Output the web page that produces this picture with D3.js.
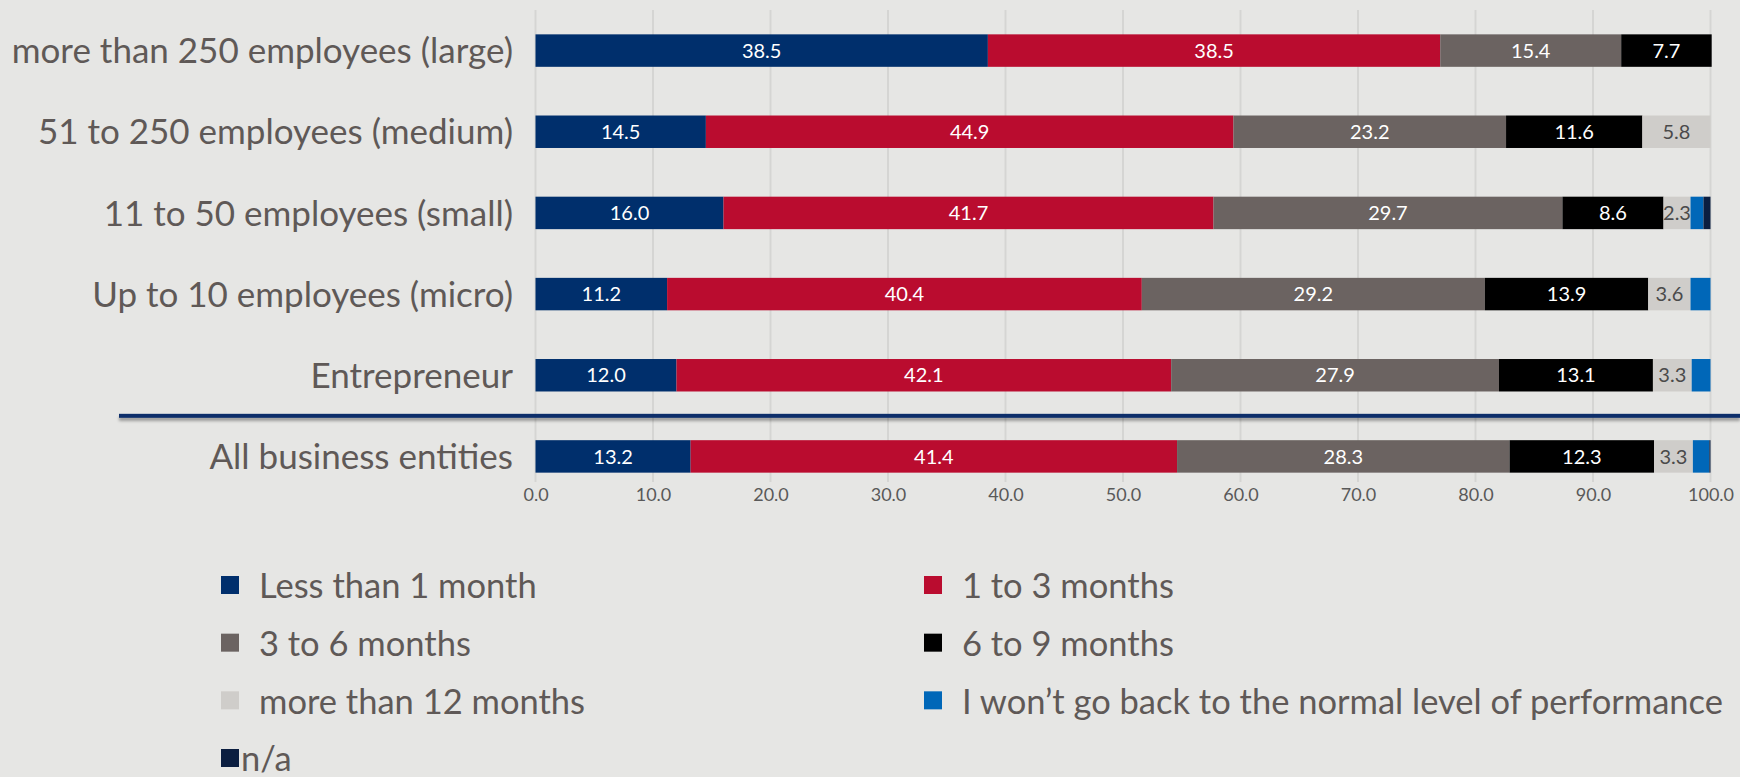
<!DOCTYPE html>
<html>
<head>
<meta charset="utf-8">
<script src="https://cdn.jsdelivr.net/npm/d3@7"></script>
<style>
  html, body { margin: 0; padding: 0; background: #e6e6e4; }
  svg { display: block; font-family: Lato, "Open Sans", sans-serif; }
</style>
</head>
<body>
<svg id="chart" width="1740" height="777"></svg>
<script>
// Business size groups, top to bottom
const categories = [
  "more than 250 employees (large)",
  "51 to 250 employees (medium)",
  "11 to 50 employees (small)",
  "Up to 10 employees (micro)",
  "Entrepreneur",
  "All business entities"
];

// Answer options (series), in stacking order
const seriesNames = [
  "Less than 1 month",
  "1 to 3 months",
  "3 to 6 months",
  "6 to 9 months",
  "more than 12 months",
  "I won\u2019t go back to the normal level of performance",
  "n/a"
];
const seriesColors = ["#002f6c", "#ba0c2f", "#6b6361", "#000000", "#cfcdca", "#0067b8", "#0b1e40"];

// Shares in % per group
const lessThan1Month = [38.5, 14.5, 16.0, 11.2, 12.0, 13.2];
const oneTo3Months   = [38.5, 44.9, 41.7, 40.4, 42.1, 41.4];
const threeTo6Months = [15.4, 23.2, 29.7, 29.2, 27.9, 28.3];
const sixTo9Months   = [7.7, 11.6, 8.6, 13.9, 13.1, 12.3];
const over12Months   = [0, 5.8, 2.3, 3.6, 3.3, 3.3];
const wontGoBack     = [0, 0, 1.1, 1.7, 1.6, 1.4];
const notAnswered    = [0, 0, 0.6, 0, 0, 0.1];

const xTicks = [0, 10, 20, 30, 40, 50, 60, 70, 80, 90, 100];

const seriesValues = [lessThan1Month, oneTo3Months, threeTo6Months, sixTo9Months,
                      over12Months, wontGoBack, notAnswered];

// Rows for d3.stack
const rows = categories.map((c, i) => {
  const r = { category: c };
  seriesNames.forEach((s, k) => { r[s] = seriesValues[k][i]; });
  return r;
});

const svg = d3.select("#chart");
const textColor = "#5f5957";

const x = d3.scaleLinear().domain([0, 100]).range([535.5, 1710.5]);
const y = d3.scaleBand().domain(categories).range([10, 497]).paddingInner(0.6).paddingOuter(0.3);
const color = d3.scaleOrdinal().domain(seriesNames).range(seriesColors);

// Vertical gridlines
svg.append("g")
  .selectAll("line")
  .data(xTicks)
  .join("line")
  .attr("x1", d => x(d)).attr("x2", d => x(d))
  .attr("y1", 10).attr("y2", 482)
  .attr("stroke", "#d5d5d3")
  .attr("stroke-width", 2);

// X axis tick labels
const xAxis = d3.axisBottom(x).tickValues(xTicks).tickFormat(d3.format(".1f")).tickSize(0).tickPadding(0);
const gx = svg.append("g").attr("transform", "translate(0,487)").call(xAxis);
gx.select(".domain").remove();
gx.selectAll("text")
  .attr("font-size", 18)
  .attr("font-family", "Lato, sans-serif")
  .attr("fill", "#595959")
  .attr("dy", "0.75em");

// Stacked bars
const stacked = d3.stack().keys(seriesNames)(rows);

const layers = svg.append("g")
  .selectAll("g")
  .data(stacked)
  .join("g")
  .attr("fill", d => color(d.key));

layers.selectAll("rect")
  .data(d => d.map(p => ({ p, key: d.key })))
  .join("rect")
  .attr("x", d => x(d.p[0]))
  .attr("y", d => y(d.p.data.category))
  .attr("width", d => Math.max(0, x(d.p[1]) - x(d.p[0])))
  .attr("height", y.bandwidth());

// Value labels inside segments
const labelData = [];
stacked.forEach(layer => {
  layer.forEach(p => {
    const v = p[1] - p[0];
    if (v >= 2) labelData.push({ key: layer.key, v: p.data[layer.key], mid: (p[0] + p[1]) / 2, cat: p.data.category });
  });
});

svg.append("g")
  .selectAll("text")
  .data(labelData)
  .join("text")
  .attr("x", d => x(d.mid))
  .attr("y", d => y(d.cat) + y.bandwidth() / 2)
  .attr("dy", "0.36em")
  .attr("text-anchor", "middle")
  .attr("font-size", 20)
  .attr("fill", d => d.key === "more than 12 months" ? "#4a4a4a" : "#ffffff")
  .text(d => d3.format(".1f")(d.v));

// Category labels
svg.append("g")
  .selectAll("text")
  .data(categories)
  .join("text")
  .attr("x", 513)
  .attr("y", d => y(d) + y.bandwidth() / 2)
  .attr("dy", "0.36em")
  .attr("text-anchor", "end")
  .attr("font-size", 35)
  .attr("fill", textColor)
  .text(d => d);

// Separator between size groups and the total, with a soft shadow
const defs = svg.append("defs");
const f = defs.append("filter").attr("id", "sepShadow").attr("x", "-5%").attr("y", "-200%").attr("width", "110%").attr("height", "500%");
f.append("feDropShadow").attr("dx", 0).attr("dy", 3).attr("stdDeviation", 1.6)
  .attr("flood-color", "#000").attr("flood-opacity", 0.35);

const sepY = (y(categories[4]) + y.bandwidth() + y(categories[5])) / 2;
svg.append("rect")
  .attr("x", 119)
  .attr("y", sepY - 2)
  .attr("width", 1740 - 119)
  .attr("height", 4)
  .attr("fill", "#0b2e6a")
  .attr("filter", "url(#sepShadow)");

// Legend: two columns, n/a on its own last row
const legendItems = seriesNames.map((name, i) => {
  if (name === "n/a") return { name, col: 0, row: 3 };
  return { name, col: i % 2, row: Math.floor(i / 2) };
});
const legendColX = [221, 924];
const legendRowY = d3.scaleLinear().domain([0, 3]).range([586, 759]);

const lg = svg.append("g")
  .selectAll("g")
  .data(legendItems)
  .join("g")
  .attr("transform", d => `translate(${legendColX[d.col]},${legendRowY(d.row)})`);

lg.append("rect")
  .attr("x", 0)
  .attr("y", -10)
  .attr("width", 18)
  .attr("height", 18)
  .attr("fill", d => color(d.name));

lg.append("text")
  .attr("x", d => d.name === "n/a" ? 20 : 38)
  .attr("y", 0)
  .attr("dy", "0.36em")
  .attr("font-size", 34.5)
  .attr("fill", textColor)
  .text(d => d.name);
</script>
</body>
</html>
